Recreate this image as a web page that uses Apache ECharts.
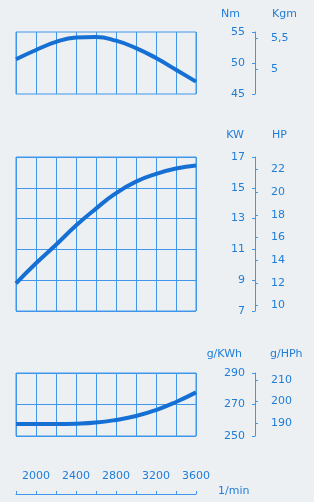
<!DOCTYPE html>
<html>
<head>
<meta charset="utf-8">
<script src="https://cdn.jsdelivr.net/npm/echarts@6/dist/echarts.min.js"></script>
<style>
html,body{margin:0;padding:0;background:#edf0f3;}
#c{width:314px;height:502px;}
</style>
</head>
<body>
<div id="c"></div>
<script>
// ---- data ----
const rpm = [1800, 2000, 2200, 2400, 2600, 2800, 3000, 3200, 3400, 3600];
const torqueNm = [50.6, 52.1, 53.4, 54.1, 54.2, 53.6, 52.4, 50.8, 48.9, 47.0];
const powerKW = [8.8, 10.1, 11.3, 12.55, 13.65, 14.65, 15.4, 15.9, 16.25, 16.45];
const fuelGKWh = [257.6, 257.6, 257.6, 257.8, 258.5, 260.2, 262.7, 266.5, 271.6, 277.7];

const nmTicks = [45, 50, 55];
const kgmTicks = [5, 5.5];
const kwTicks = [7, 9, 11, 13, 15, 17];
const hpTicks = [10, 12, 14, 16, 18, 20, 22];
const gkwhTicks = [250, 270, 290];
const ghphTicks = [190, 200, 210];
const rpmLabels = [2000, 2400, 2800, 3200, 3600];

// unit conversions
const NM_PER_KGM = 9.80665;
const KW_PER_HP = 0.7355;

const TXT = '#1f7dd8';
const GRID = '#3f96ea';
const CURVE = '#1670d4';
const FONT = 'DejaVu Sans';
const LEFT = 16, WIDTH = 180, AXIS_X = 255;

const gridBox = (top, height) => ({left: LEFT, width: WIDTH, top: top, height: height,
  show: true, borderColor: GRID, borderWidth: 1, backgroundColor: 'transparent'});

function xAx(i) {
  return {type: 'value', gridIndex: i, min: 1800, max: 3600, interval: 200,
    axisLine: {show: false}, axisTick: {show: false}, axisLabel: {show: false},
    splitLine: {show: true, lineStyle: {color: GRID, width: 1}}};
}
function primary(gi, min, max, ticks) {
  return {type: 'value', gridIndex: gi, position: 'right', offset: AXIS_X - LEFT - WIDTH,
    min: min, max: max,
    axisLine: {show: true, lineStyle: {color: GRID, width: 1}},
    axisTick: {show: true, inside: true, length: 3, lineStyle: {color: GRID}, customValues: ticks},
    axisLabel: {show: true, inside: true, margin: 10, color: TXT, fontFamily: FONT, fontSize: 11,
      customValues: ticks, formatter: v => String(v)},
    splitLine: {show: false}};
}
function secondary(gi, min, max, ticks, fmt) {
  return {type: 'value', gridIndex: gi, position: 'right', offset: AXIS_X - LEFT - WIDTH,
    min: min, max: max,
    axisLine: {show: false},
    axisTick: {show: true, inside: false, length: 3, lineStyle: {color: GRID}, customValues: ticks},
    axisLabel: {show: true, inside: false, margin: 16, color: TXT, fontFamily: FONT, fontSize: 11,
      customValues: ticks, formatter: fmt || (v => String(v))},
    splitLine: {show: false}};
}
function lines(gi, rows) {
  return {type: 'value', gridIndex: gi, position: 'left', min: 0, max: rows, interval: 1,
    axisLine: {show: false}, axisTick: {show: false}, axisLabel: {show: false},
    splitLine: {show: true, lineStyle: {color: GRID, width: 1}}};
}

const pairs = (ys) => rpm.map((r, i) => [r, ys[i]]);

const option = {
  backgroundColor: '#edf0f3',
  animation: false,
  grid: [gridBox(32, 62), gridBox(157, 154), gridBox(373, 63), {left: LEFT, width: WIDTH, top: 493, height: 1}],
  xAxis: [xAx(0), xAx(1), xAx(2), {
    type: 'value', gridIndex: 3, min: 1800, max: 3600, interval: 200,
    axisLine: {show: true, lineStyle: {color: GRID, width: 1}},
    axisTick: {show: true, inside: true, length: 3, lineStyle: {color: GRID}},
    axisLabel: {show: true, inside: true, margin: 12, color: TXT, fontFamily: FONT, fontSize: 11,
      customValues: rpmLabels, formatter: v => String(v)},
    splitLine: {show: false}
  }],
  yAxis: [
    primary(0, nmTicks[0], nmTicks[nmTicks.length - 1], nmTicks),
    secondary(0, nmTicks[0] / NM_PER_KGM, nmTicks[nmTicks.length - 1] / NM_PER_KGM, kgmTicks,
      v => String(v).replace('.', ',')),
    primary(1, kwTicks[0], kwTicks[kwTicks.length - 1], kwTicks),
    secondary(1, kwTicks[0] / KW_PER_HP, kwTicks[kwTicks.length - 1] / KW_PER_HP, hpTicks),
    lines(1, 5),
    primary(2, gkwhTicks[0], gkwhTicks[gkwhTicks.length - 1], gkwhTicks),
    secondary(2, gkwhTicks[0] * KW_PER_HP, gkwhTicks[gkwhTicks.length - 1] * KW_PER_HP, ghphTicks),
    lines(2, 2),
    {type: 'value', gridIndex: 3, show: false, min: 0, max: 1}
  ],
  series: [
    {type: 'line', xAxisIndex: 0, yAxisIndex: 0, data: pairs(torqueNm), smooth: true, symbol: 'none',
      lineStyle: {color: CURVE, width: 4}},
    {type: 'line', xAxisIndex: 1, yAxisIndex: 2, data: pairs(powerKW), smooth: true, symbol: 'none',
      lineStyle: {color: CURVE, width: 4}},
    {type: 'line', xAxisIndex: 2, yAxisIndex: 5, data: pairs(fuelGKWh), smooth: true, symbol: 'none',
      lineStyle: {color: CURVE, width: 4}}
  ],
  graphic: [
    {type: 'text', right: 314 - 240, top: 9, style: {text: 'Nm', fill: TXT, font: '11px "DejaVu Sans"'}},
    {type: 'text', left: 272, top: 9, style: {text: 'Kgm', fill: TXT, font: '11px "DejaVu Sans"'}},
    {type: 'text', right: 314 - 244, top: 130, style: {text: 'KW', fill: TXT, font: '11px "DejaVu Sans"'}},
    {type: 'text', left: 272, top: 130, style: {text: 'HP', fill: TXT, font: '11px "DejaVu Sans"'}},
    {type: 'text', right: 314 - 242, top: 349, style: {text: 'g/KWh', fill: TXT, font: '11px "DejaVu Sans"'}},
    {type: 'text', left: 270, top: 349, style: {text: 'g/HPh', fill: TXT, font: '11px "DejaVu Sans"'}},
    {type: 'text', left: 218, top: 486, style: {text: '1/min', fill: TXT, font: '11px "DejaVu Sans"'}}
  ]
};
const chart = echarts.init(document.getElementById('c'), null, {renderer: 'canvas'});
chart.setOption(option);
</script>
</body>
</html>
